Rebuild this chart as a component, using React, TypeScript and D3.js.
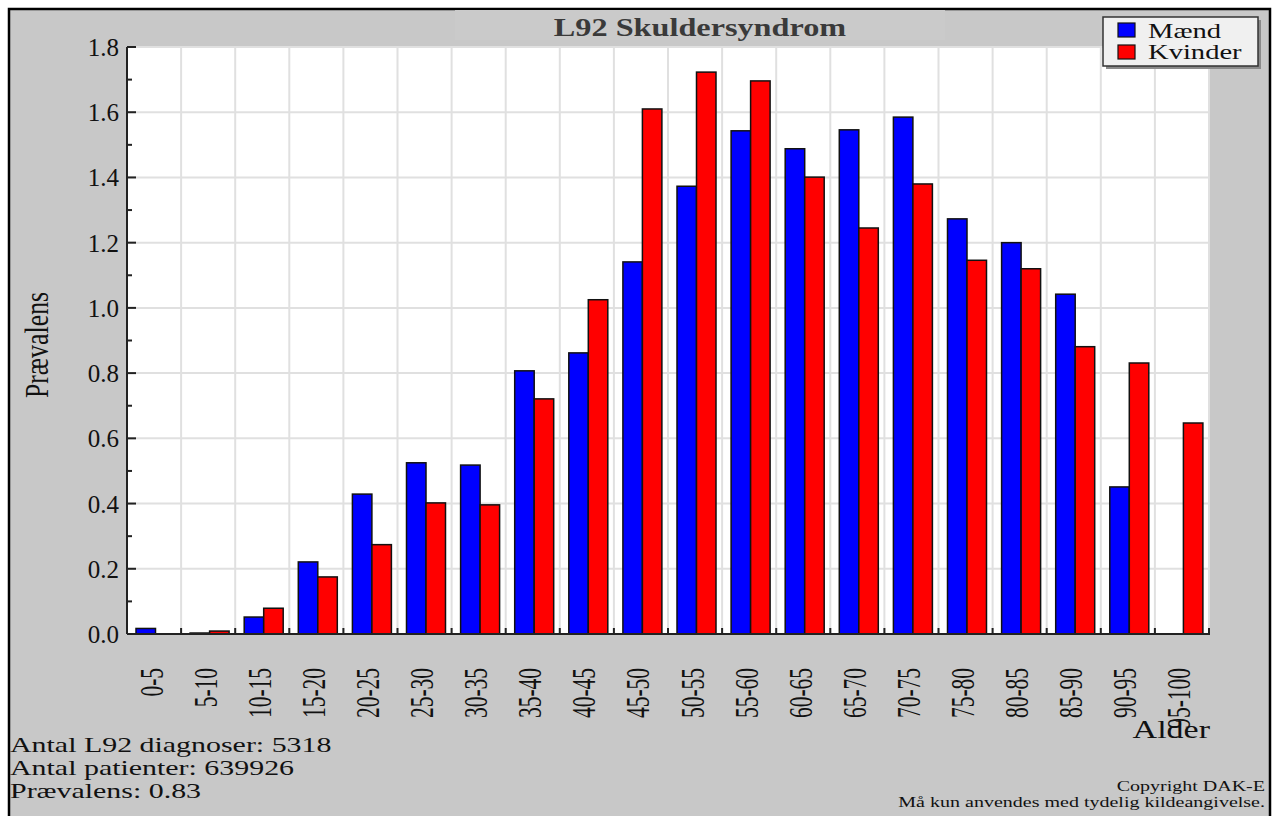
import React, { useRef, useEffect } from 'react';
import * as d3 from 'd3';

// age groups and prevalence per sex
const categories = ['0-5', '5-10', '10-15', '15-20', '20-25', '25-30', '30-35', '35-40', '40-45', '45-50',
    '50-55', '55-60', '60-65', '65-70', '70-75', '75-80', '80-85', '85-90', '90-95', '95-100'];
const maend = [0.017, 0.003, 0.052, 0.221, 0.429, 0.525, 0.518, 0.807, 0.862, 1.141,
    1.373, 1.543, 1.488, 1.546, 1.585, 1.273, 1.200, 1.042, 0.451, 0];
const kvinder = [0, 0.009, 0.079, 0.175, 0.274, 0.402, 0.396, 0.721, 1.025, 1.610,
    1.723, 1.696, 1.401, 1.245, 1.380, 1.146, 1.120, 0.881, 0.831, 0.647];
const seriesNames = ['Mænd', 'Kvinder'];
const seriesColors = ['#0000ff', '#ff0000'];
const yTicks = [0, 0.2, 0.4, 0.6, 0.8, 1.0, 1.2, 1.4, 1.6, 1.8];
const infoLines = ['Antal L92 diagnoser: 5318', 'Antal patienter: 639926', 'Prævalens: 0.83'];
const copyrightLines = ['Copyright DAK-E', 'Må kun anvendes med tydelig kildeangivelse.'];

const FONT = '"Liberation Serif", "Times New Roman", serif';
const W = 1277;
const H = 816;

const App: React.FC = () => {
    const svgRef = useRef<SVGSVGElement>(null);

    useEffect(() => {
        if (!svgRef.current) return;
        const svg = d3.select(svgRef.current);
        svg.selectAll('*').remove();

        const plot = { left: 127, right: 1209, top: 47, bottom: 634 };

        // text that is stretched / squeezed along its baseline, like the source image
        const label = (x: number, y: number, txt: string, o: {
            size: number; sx?: number; rot?: number; anchor?: string; weight?: string; fill?: string;
        }) => {
            const g = svg.append('g')
                .attr('transform', `translate(${x},${y}) rotate(${o.rot ?? 0}) scale(${o.sx ?? 1},1)`);
            g.append('text')
                .attr('font-family', FONT)
                .attr('font-size', o.size)
                .attr('font-weight', o.weight ?? 'normal')
                .attr('text-anchor', o.anchor ?? 'start')
                .attr('fill', o.fill ?? '#111')
                .text(txt);
        };

        // background + frame
        svg.append('rect').attr('x', 0).attr('y', 0).attr('width', W).attr('height', H).attr('fill', '#fff');
        svg.append('rect')
            .attr('x', 9).attr('y', 9).attr('width', 1261).attr('height', 820)
            .attr('fill', '#c8c8c8').attr('stroke', '#000').attr('stroke-width', 2.5);
        svg.append('rect')
            .attr('x', 455).attr('y', 10).attr('width', 490).attr('height', 30)
            .attr('fill', '#cacaca');

        // scales
        const x = d3.scaleBand<string>().domain(categories).range([plot.left, plot.right]).paddingInner(0).paddingOuter(0);
        const xSub = d3.scaleBand<string>().domain(seriesNames).range([9, 48]).padding(0);
        const y = d3.scaleLinear().domain([0, 1.8]).range([plot.bottom, plot.top]);

        // plot area
        svg.append('rect')
            .attr('x', plot.left).attr('y', plot.top)
            .attr('width', plot.right - plot.left).attr('height', plot.bottom - plot.top)
            .attr('fill', '#fff');

        // grid
        const grid = svg.append('g').attr('stroke', '#e0e0e0').attr('stroke-width', 2);
        yTicks.filter(t => t > 0).forEach(t => {
            grid.append('line')
                .attr('x1', plot.left).attr('x2', plot.right)
                .attr('y1', y(t)).attr('y2', y(t));
        });
        categories.forEach((c, i) => {
            if (i === 0) return;
            const xx = x(c)!;
            grid.append('line').attr('x1', xx).attr('x2', xx).attr('y1', plot.top).attr('y2', plot.bottom);
        });
        grid.append('line').attr('x1', plot.right).attr('x2', plot.right).attr('y1', plot.top).attr('y2', plot.bottom);

        // bars
        const data = [maend, kvinder];
        data.forEach((vals, si) => {
            svg.append('g')
                .selectAll('rect')
                .data(vals.map((v, i) => ({ v, c: categories[i] })).filter(d => d.v > 0))
                .join('rect')
                .attr('x', d => x(d.c)! + xSub(seriesNames[si])!)
                .attr('y', d => y(d.v))
                .attr('width', xSub.bandwidth())
                .attr('height', d => y(0) - y(d.v))
                .attr('fill', seriesColors[si])
                .attr('stroke', '#111')
                .attr('stroke-width', 1.5);
        });

        // axes (ticks pointing inwards)
        const ax = svg.append('g').attr('stroke', '#222').attr('stroke-width', 2);
        ax.append('line').attr('x1', plot.left).attr('x2', plot.left).attr('y1', plot.top).attr('y2', plot.bottom);
        ax.append('line').attr('x1', plot.left).attr('x2', plot.right + 1).attr('y1', plot.bottom).attr('y2', plot.bottom);
        d3.range(0, 19).forEach(k => {
            const v = k / 10;
            const major = k % 2 === 0;
            ax.append('line')
                .attr('x1', plot.left).attr('x2', plot.left + (major ? 9 : 5))
                .attr('y1', y(v)).attr('y2', y(v));
        });
        categories.forEach((c, i) => {
            const xx = i === categories.length - 1 ? plot.right : x(categories[i + 1])!;
            ax.append('line').attr('x1', xx).attr('x2', xx).attr('y1', plot.bottom).attr('y2', plot.bottom - 6);
        });

        // y tick labels
        yTicks.forEach(t => label(119, y(t) + 9, d3.format('.1f')(t), { size: 25, anchor: 'end' }));

        // x tick labels (rotated, squeezed)
        categories.forEach(c => {
            label(x(c)! + x.bandwidth() / 2 + 8.5, 668, c, { size: 34, sx: 0.63, rot: -90, anchor: 'end' });
        });

        // axis titles
        label(48, 345, 'Prævalens', { size: 34, sx: 0.76, rot: -90, anchor: 'middle' });
        label(1210, 738, 'Alder', { size: 25, sx: 1.36, anchor: 'end' });

        // chart title
        label(700, 36, 'L92 Skuldersyndrom', { size: 25, sx: 1.29, anchor: 'middle', weight: 'bold', fill: '#3a3a3a' });

        // legend
        svg.append('rect').attr('x', 1106).attr('y', 20).attr('width', 155).attr('height', 49).attr('fill', '#8a8a8a');
        svg.append('rect')
            .attr('x', 1103).attr('y', 17).attr('width', 155).attr('height', 49)
            .attr('fill', '#f0f0f0').attr('stroke', '#333').attr('stroke-width', 1.5);
        seriesNames.forEach((n, i) => {
            svg.append('rect')
                .attr('x', 1118).attr('y', 23 + i * 22).attr('width', 17).attr('height', 14)
                .attr('fill', seriesColors[i]).attr('stroke', '#111').attr('stroke-width', 1.2);
            label(1148, 38 + i * 21, n, { size: 20, sx: 1.43 });
        });

        // info text
        infoLines.forEach((t, i) => label(10, 752 + i * 23, t, { size: 22, sx: 1.36 }));
        copyrightLines.forEach((t, i) => label(1265, 791 + i * 16, t, { size: 14.5, sx: 1.38, anchor: 'end' }));
    }, []);

    return (
        <svg
            ref={svgRef}
            width={W}
            height={H}
            style={{ position: 'fixed', left: 0, top: 0, display: 'block' }}
        />
    );
};

export default App;
